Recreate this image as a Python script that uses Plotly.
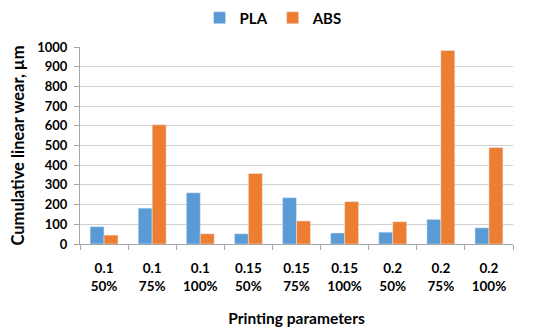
import plotly.graph_objects as go

categories = ["0.1<br>50%", "0.1<br>75%", "0.1<br>100%", "0.15<br>50%", "0.15<br>75%",
              "0.15<br>100%", "0.2<br>50%", "0.2<br>75%", "0.2<br>100%"]
pla = [88, 182, 260, 52, 235, 56, 60, 125, 82]
abs_vals = [45, 605, 52, 358, 117, 215, 113, 982, 490]

font = "Lato"
fig = go.Figure()
fig.add_trace(go.Bar(x=categories, y=pla, name="PLA", marker_color="#5B9BD5"))
fig.add_trace(go.Bar(x=categories, y=abs_vals, name="ABS", marker_color="#ED7D31"))

fig.update_layout(
    width=542, height=323,
    margin=dict(l=72, r=37, t=39, b=87, autoexpand=False),
    paper_bgcolor="white", plot_bgcolor="white",
    barmode="group", bargap=0.42, bargroupgap=0,
    font=dict(family=font, size=12, color="black"),
    legend=dict(orientation="h", x=0.49, xanchor="center", xref="container",
                y=0.969, yanchor="middle", yref="container",
                font=dict(size=15, family=font, weight="bold"),
                traceorder="normal"),
    xaxis=dict(
        title=dict(text="<b>Printing parameters</b>", font=dict(size=15.5), standoff=20),
        tickfont=dict(size=13.5, weight="bold"), automargin=False, ticklabelstandoff=12,
        showline=True, linecolor="#A6A6A6", ticks="outside", tickson="boundaries",
        tickcolor="#A6A6A6", ticklen=5, showgrid=False,
    ),
    yaxis=dict(
        title=dict(text="<b>Cumulative linear wear, µm</b>", font=dict(size=16.5), standoff=18),
        range=[0, 1000], dtick=100, tickfont=dict(size=13, weight="bold"), automargin=False,
        ticklabelstandoff=4,
        showline=True, linecolor="#A6A6A6", ticks="outside", tickcolor="#A6A6A6", ticklen=5,
        gridcolor="#D0D0D0", zeroline=False,
    ),
)
fig.write_html("out.html")
